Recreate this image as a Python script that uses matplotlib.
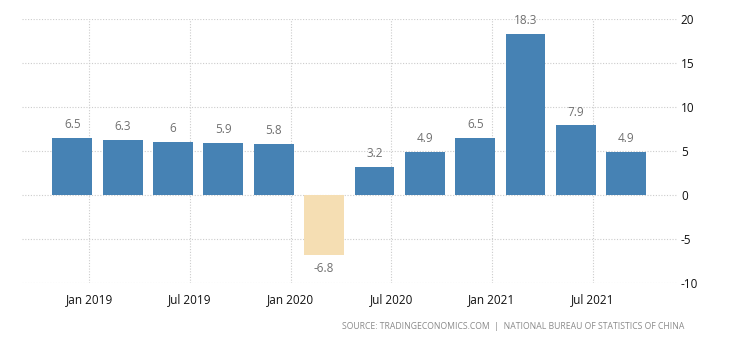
import matplotlib
matplotlib.use("Agg")
import matplotlib.pyplot as plt

# China GDP growth, year over year, quarterly
quarters = ["Q4 2018", "Q1 2019", "Q2 2019", "Q3 2019", "Q4 2019", "Q1 2020",
            "Q2 2020", "Q3 2020", "Q4 2020", "Q1 2021", "Q2 2021", "Q3 2021"]
growth = [6.5, 6.3, 6, 5.9, 5.8, -6.8, 3.2, 4.9, 6.5, 18.3, 7.9, 4.9]
tick_labels = ["Jan 2019", "Jul 2019", "Jan 2020", "Jul 2020", "Jan 2021", "Jul 2021"]
tick_pos = [1/3 + 2 * k for k in range(len(tick_labels))]
source = "SOURCE: TRADINGECONOMICS.COM  |  NATIONAL BUREAU OF STATISTICS OF CHINA"

BLUE = "#4682b4"
NEG = "#f5deb3"

plt.rcParams['font.family'] = ['Open Sans', 'DejaVu Sans']
plt.rcParams['axes.unicode_minus'] = False

fig = plt.figure(figsize=(7.3, 3.4), dpi=100)
ax = fig.add_axes([0.030, 0.168, 0.897, 0.776])

x = list(range(len(growth)))
colors = [BLUE if v >= 0 else NEG for v in growth]
ax.bar(x, growth, width=0.79, color=colors, zorder=2)

for xi, v in zip(x, growth):
    label = f"{v:g}"
    if v >= 0:
        ax.annotate(label, (xi, v), xytext=(0, 5), textcoords="offset points",
                    ha="center", va="bottom", fontsize=8.5, color="#707070")
    else:
        ax.annotate(label, (xi, v), xytext=(0, -5), textcoords="offset points",
                    ha="center", va="top", fontsize=8.5, color="#707070")

ax.set_xlim(-1, 12)
ax.set_ylim(-10, 20)
ax.set_yticks([-10, -5, 0, 5, 10, 15, 20])
ax.set_xticks(tick_pos)
ax.set_xticklabels(tick_labels)
ax.yaxis.tick_right()
ax.tick_params(axis="both", length=0, labelsize=8.5, colors="#111111")
ax.tick_params(axis="y", pad=3)
ax.tick_params(axis="x", pad=7)

ax.grid(True, color="#cccccc", linestyle=(0, (1, 1.5)), linewidth=0.8, zorder=0)
for s in ax.spines.values():
    s.set_visible(False)

fig.text(0.938, 0.040, source, ha="right", va="center", fontsize=6.2,
         color="#8a8a8a")

fig.savefig("out.png", dpi=100)
